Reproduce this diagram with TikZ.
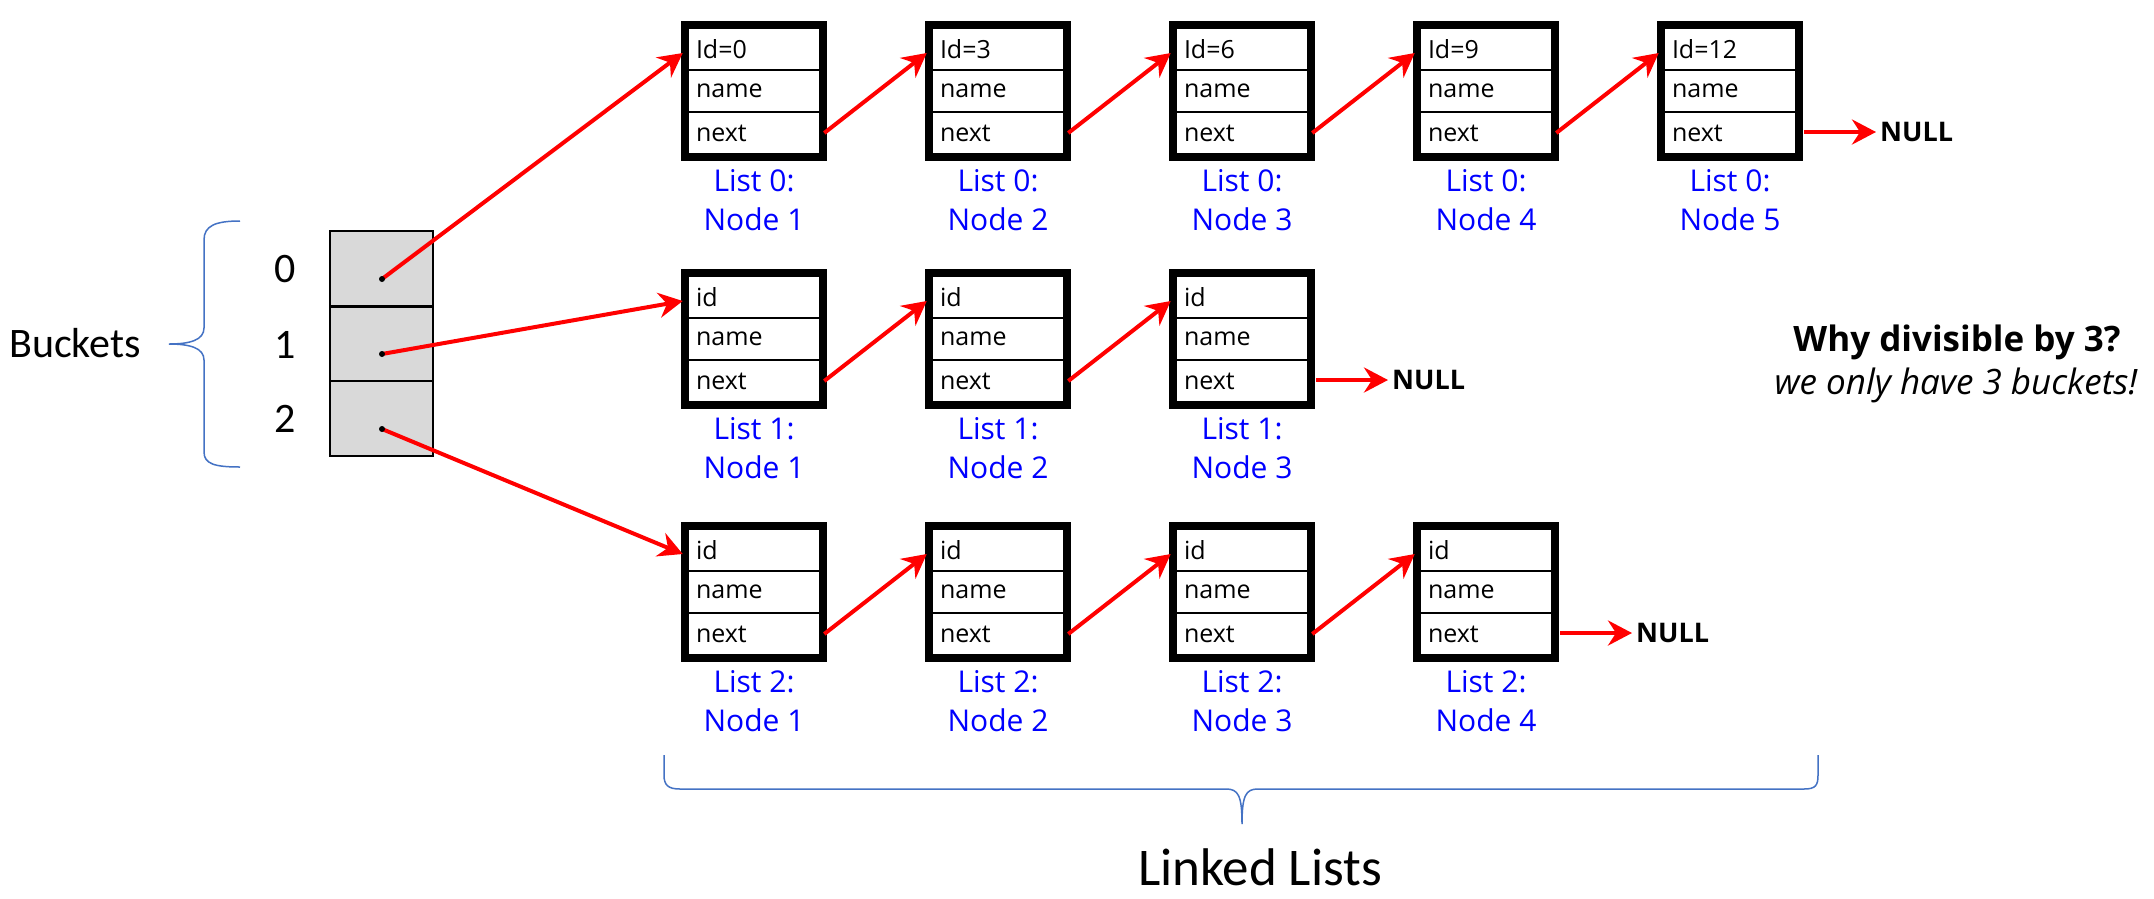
\documentclass[tikz,border=0pt]{standalone}
\usepackage{fontspec}
\setmainfont{Open Sans}
\newfontfamily\calibri{Carlito}
\usetikzlibrary{arrows.meta}
\definecolor{ptrred}{RGB}{255,0,0}
\definecolor{lblblue}{RGB}{0,0,255}
\definecolor{braceblue}{RGB}{68,114,196}
\definecolor{bucketgray}{RGB}{217,217,217}
\begin{document}
\begin{tikzpicture}[x=1pt,y=-1pt,
  cell/.style={draw, line width=2.5pt, minimum width=132pt, minimum height=42pt, text width=116pt, align=left, inner sep=0pt, font=\fontsize{25}{29}\selectfont},
  frame/.style={draw, line width=7pt, minimum width=139pt, minimum height=133pt, inner sep=0pt},
  lbl/.style={text=lblblue, font=\fontsize{30}{36}\selectfont, inner sep=0pt},
  ptr/.style={draw=ptrred, line width=4pt, -{Stealth[length=24pt,width=25pt,inset=8pt]}},
  nulltxt/.style={font=\fontsize{27}{32}\selectfont\bfseries, anchor=west, inner sep=0pt},
  bucket/.style={draw, line width=2pt, fill=bucketgray, minimum width=103pt, minimum height=75pt, inner sep=0pt},
  dot/.style={circle, fill=black, inner sep=0pt, minimum size=6pt},
  brace/.style={draw=braceblue, line width=1.5pt},
  calib/.style={font=\calibri\fontsize{#1}{#1}\selectfont, inner sep=0pt}
]
\fill[white] (0,0) rectangle (2154,898);
\useasboundingbox (0,0) rectangle (2154,898);

% buckets
\node[bucket] (b0) at (381.5,268.5) {};
\node[bucket] (b1) at (381.5,344) {};
\node[bucket] (b2) at (381.5,418.5) {};
\node[calib=42] (k0) at (285,269) {0};
\node[calib=42] (k1) at (285,345) {1};
\node[calib=42] (k2) at (285,419) {2};
\node[calib=42] (bk) at (75,343) {Buckets};
\path[brace] (240,221) .. controls (215,221) and (204,226) .. (204,240) -- (204,328)
  .. controls (204,340) and (190,344) .. (169,344)
  .. controls (190,344) and (204,348) .. (204,360) -- (204,452)
  .. controls (204,464) and (215,467) .. (240,467);
\coordinate (d0) at (382,279);
\coordinate (d1) at (382,354);
\coordinate (d2) at (382,429);

% lists
\foreach \r/\T/\n in {0/21/5, 1/269/3, 2/522/4} {
  \foreach \c in {1,...,\n} {
    \pgfmathsetmacro\L{681+244*(\c-1)}
    \pgfmathtruncatemacro\idv{3*(\c-1)}
    \pgfmathtruncatemacro\cp{\c-1}
    \node[cell] (c-\r-\c-id) at (\L+73,\T+28) {\ifnum\r=0 Id=\idv\else id\fi};
    \node[cell] (c-\r-\c-nm) at (\L+73,\T+70) {name};
    \node[cell] (c-\r-\c-nx) at (\L+73,\T+112) {next};
    \node[frame] (box-\r-\c) at (\L+73,\T+70) {};
    \node[lbl] (la-\r-\c) at (\L+73,\T+160) {List \r:};
    \node[lbl] (lb-\r-\c) at (\L+73,\T+198) {Node \c};
    \ifnum\c>1
      \draw[ptr] ([xshift=3pt]c-\r-\cp-nx.east) -- ([xshift=-4pt,yshift=-4pt]c-\r-\c-id.west);
    \fi
  }
  \pgfmathsetmacro\Ln{681+244*(\n-1)}
  \node[nulltxt] (nul-\r) at (\Ln+146+77,\T+111) {NULL};
  \draw[ptr] ([xshift=7pt]c-\r-\n-nx.east |- nul-\r.west) -- ([xshift=-4pt]nul-\r.west);
  \draw[ptr] (d\r) -- ([xshift=-4pt,yshift=-4pt]c-\r-1-id.west);
}
\foreach \i in {0,1,2} { \node[dot] (dot\i) at (d\i) {}; }

% right note
\node[font=\fontsize{35}{40}\selectfont\bfseries, inner sep=0pt] (why) at (1957,342) {Why divisible by 3?};
\node[font=\fontsize{35}{40}\selectfont\itshape, inner sep=0pt] (only) at (1956,385) {we only have 3 buckets!};

% bottom brace
\path[brace] (664,755) -- (664,775) .. controls (664,785) and (668,789) .. (680,789) -- (1226,789)
  .. controls (1238,789) and (1242,795) .. (1242,824)
  .. controls (1242,795) and (1246,789) .. (1258,789) -- (1804,789)
  .. controls (1816,789) and (1818,785) .. (1818,775) -- (1818,755);
\node[calib=53] (ll) at (1260,867) {Linked Lists};
\end{tikzpicture}
\end{document}
